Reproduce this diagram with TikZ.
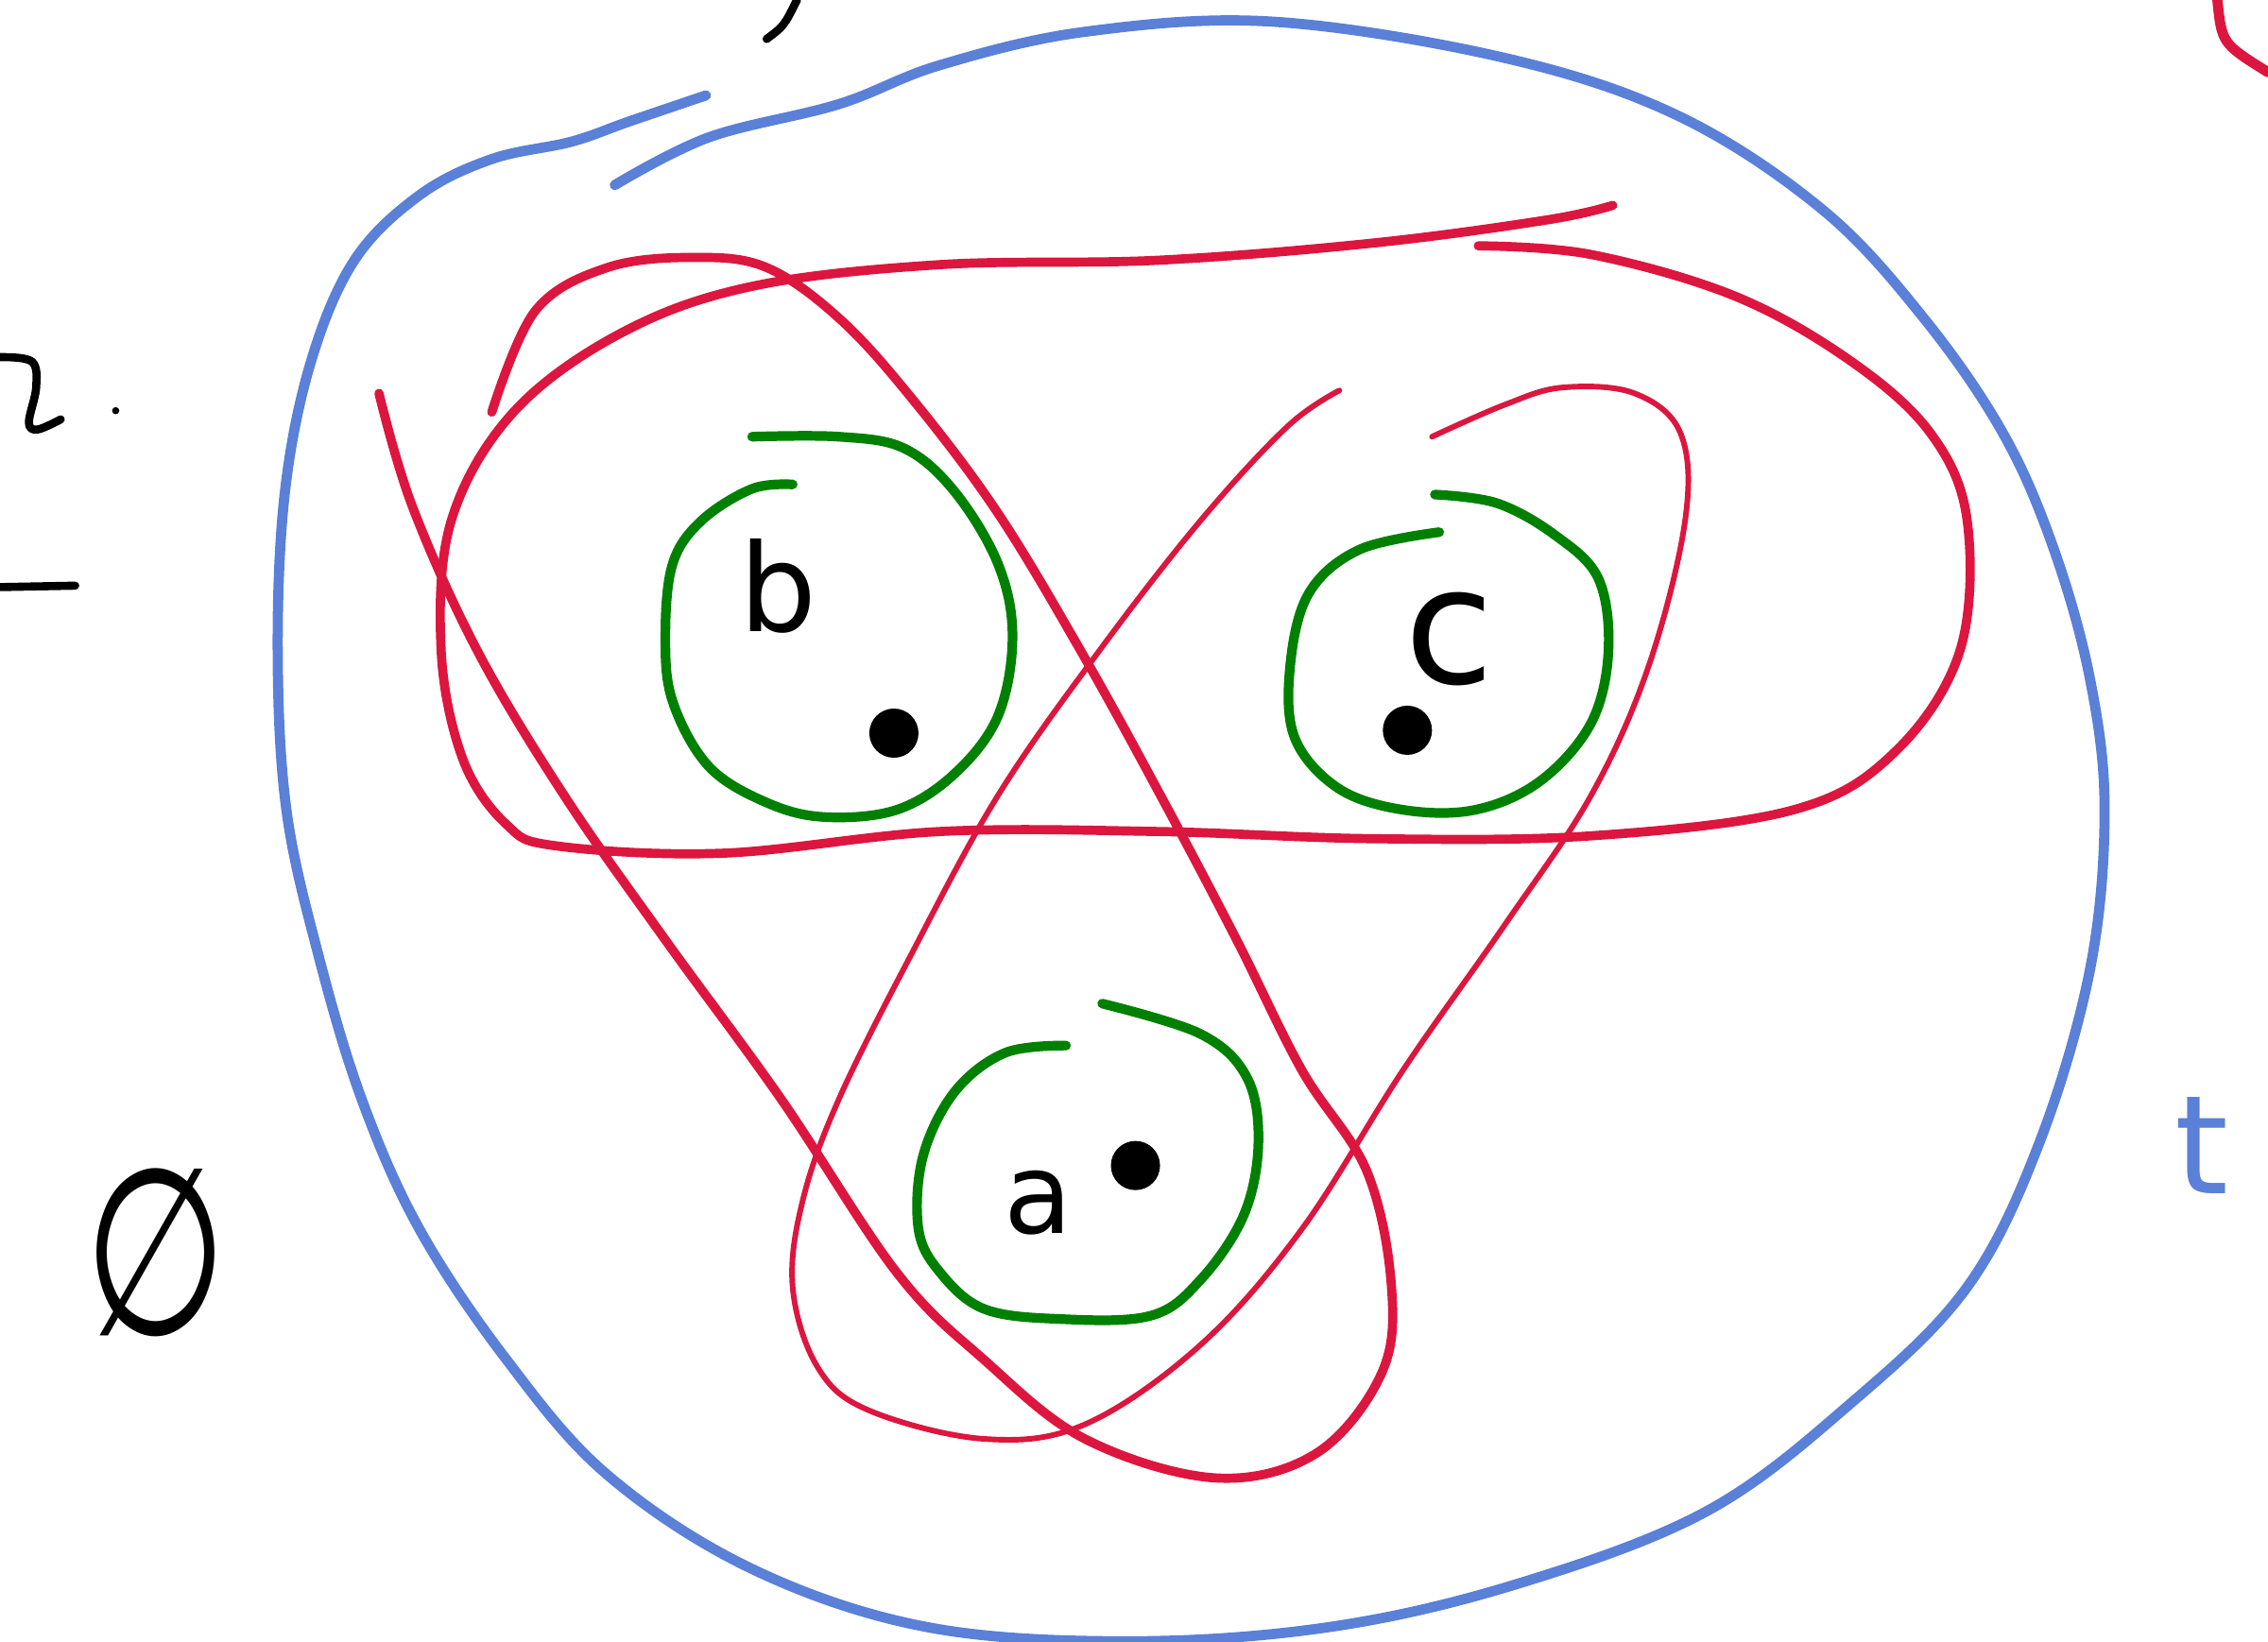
\documentclass[tikz,border=0pt]{standalone}
\usepackage{fontspec}
\usepackage{tikz}
\newfontfamily\handfont{DejaVu Sans}
\definecolor{penblue}{RGB}{90,128,215}
\definecolor{penred}{RGB}{220,22,62}
\definecolor{pengreen}{RGB}{0,128,0}
\definecolor{penblack}{RGB}{0,0,0}
\tikzset{
  stroke/.style={line cap=round, line join=round},
  bluepen/.style={stroke, draw=penblue, line width=2.0pt},
  redpen/.style={stroke, draw=penred, line width=1.8pt},
  thinred/.style={stroke, draw=penred, line width=1.1pt},
  greenpen/.style={stroke, draw=pengreen, line width=1.9pt},
  blackpen/.style={stroke, draw=penblack, line width=1.6pt},
  point/.style={circle, fill=penblack, inner sep=0pt, minimum size=0.34cm},
  letter/.style={inner sep=0pt, text=penblack, font=\handfont}
}

\begin{document}
\begin{tikzpicture}[x=1cm, y=-1cm]
  \useasboundingbox (0,0) rectangle (15.68,11.35);

  % outer blue loop
  \draw[bluepen] plot[smooth, tension=0.6] coordinates {
    (4.88,0.66) (4.35,0.84) (3.95,0.98) (3.40,1.10) (2.90,1.35) (2.45,1.80)
    (2.15,2.50) (1.97,3.40) (1.92,4.50) (1.98,5.60) (2.20,6.60) (2.50,7.60)
    (2.90,8.50) (3.50,9.40) (4.20,10.20) (5.20,10.85) (6.40,11.25) (7.80,11.35)
    (9.20,11.25) (10.50,10.95) (11.80,10.45) (12.80,9.70) (13.60,8.90)
    (14.10,7.90) (14.45,6.70) (14.55,5.60) (14.45,4.70) (14.20,3.80)
    (13.85,3.00) (13.30,2.20) (12.60,1.45) (11.60,0.80) (10.40,0.40)
    (8.80,0.15) (7.50,0.22) (6.50,0.45) (5.80,0.72) (4.90,0.95) (4.25,1.28)};
  \node[letter, text=penblue, font=\handfont\fontsize{27}{27}\selectfont] (tlabel) at (15.22,7.92) {t};

  % red loop round b and c
  \draw[redpen] plot[smooth, tension=0.6] coordinates {
    (11.15,1.42) (10.70,1.52) (9.50,1.68) (8.00,1.80) (6.50,1.83) (5.20,1.98)
    (4.30,2.30) (3.55,2.85) (3.12,3.60) (3.05,4.50) (3.20,5.25) (3.50,5.70)
    (3.85,5.85) (5.00,5.90) (6.50,5.75) (8.00,5.75) (9.50,5.80) (11.00,5.78)
    (12.40,5.60) (13.10,5.20) (13.55,4.50) (13.60,3.60) (13.35,3.00)
    (12.80,2.50) (12.00,2.05) (11.00,1.76) (10.22,1.70)};

  % red loop round a and b
  \draw[redpen] plot[smooth, tension=0.6] coordinates {
    (2.62,2.72) (2.85,3.50) (3.30,4.50) (3.90,5.50) (4.60,6.50) (5.40,7.60)
    (6.20,8.80) (6.80,9.40) (7.50,9.95) (8.40,10.22) (9.10,10.05) (9.55,9.50)
    (9.62,8.90) (9.45,8.10) (9.00,7.40) (8.55,6.50) (8.05,5.55) (7.50,4.55)
    (6.90,3.55) (6.30,2.75) (5.80,2.20) (5.30,1.85) (4.80,1.78) (4.20,1.85)
    (3.70,2.15) (3.40,2.85)};

  % red loop round a and c
  \draw[thinred] plot[smooth, tension=0.6] coordinates {
    (9.26,2.70) (8.90,2.95) (8.30,3.60) (7.60,4.50) (6.90,5.50) (6.30,6.60)
    (5.80,7.60) (5.55,8.30) (5.48,8.90) (5.65,9.45) (6.00,9.75) (6.80,9.95)
    (7.50,9.85) (8.30,9.30) (9.00,8.50) (9.70,7.40) (10.40,6.40) (11.00,5.50)
    (11.40,4.60) (11.65,3.60) (11.62,3.00) (11.30,2.72) (10.80,2.68)
    (10.40,2.80) (9.90,3.02)};

  % green singletons
  \draw[greenpen] plot[smooth, tension=0.6] coordinates {
    (5.48,3.35) (5.20,3.38) (4.85,3.60) (4.65,3.90) (4.60,4.40) (4.65,4.85)
    (4.90,5.30) (5.30,5.55) (5.70,5.65) (6.20,5.60) (6.60,5.35) (6.90,4.95)
    (7.00,4.40) (6.90,3.90) (6.60,3.40) (6.25,3.10) (5.80,3.02) (5.20,3.02)};
  \draw[greenpen] plot[smooth, tension=0.6] coordinates {
    (9.95,3.68) (9.40,3.80) (9.05,4.10) (8.92,4.60) (8.95,5.10) (9.25,5.45)
    (9.70,5.60) (10.20,5.60) (10.65,5.40) (11.00,5.00) (11.12,4.50)
    (11.05,4.00) (10.75,3.70) (10.35,3.48) (9.92,3.42)};
  \draw[greenpen] plot[smooth, tension=0.6] coordinates {
    (7.37,7.23) (6.95,7.28) (6.60,7.55) (6.38,8.00) (6.35,8.50) (6.50,8.80)
    (6.80,9.05) (7.30,9.12) (7.95,9.10) (8.30,8.85) (8.60,8.40) (8.70,7.90)
    (8.62,7.45) (8.30,7.15) (7.62,6.94)};

  % elements and points
  \node[letter, font=\handfont\fontsize{24}{24}\selectfont] (lb) at (5.38,4.05) {b};
  \node[letter, font=\handfont\fontsize{32}{32}\selectfont] (lc) at (10.02,4.42) {c};
  \node[letter, font=\handfont\fontsize{22}{22}\selectfont] (la) at (7.18,8.32) {a};
  \node[point] (pb) at (6.18,5.07) {};
  \node[point] (pc) at (9.73,5.05) {};
  \node[point] (pa) at (7.85,8.06) {};

  % empty set on the left
  \node[letter, font=\handfont\fontsize{46}{46}\selectfont, xscale=0.7] (empty) at (1.08,8.66) {∅};

  % cut-off strokes at the edges
  \draw[blackpen] plot[smooth, tension=0.6] coordinates {
    (0,2.47) (0.22,2.50) (0.25,2.68) (0.20,2.92) (0.26,2.97) (0.42,2.90)};
  \fill[penblack] (0.80,2.84) circle (0.025);
  \draw[blackpen] (0,4.06) -- (0.52,4.05);
  \draw[blackpen] (5.30,0.27) .. controls (5.42,0.18) .. (5.51,0);
  \draw[redpen, line width=2pt] (15.33,0) .. controls (15.36,0.30) .. (15.68,0.50);
\end{tikzpicture}
\end{document}
